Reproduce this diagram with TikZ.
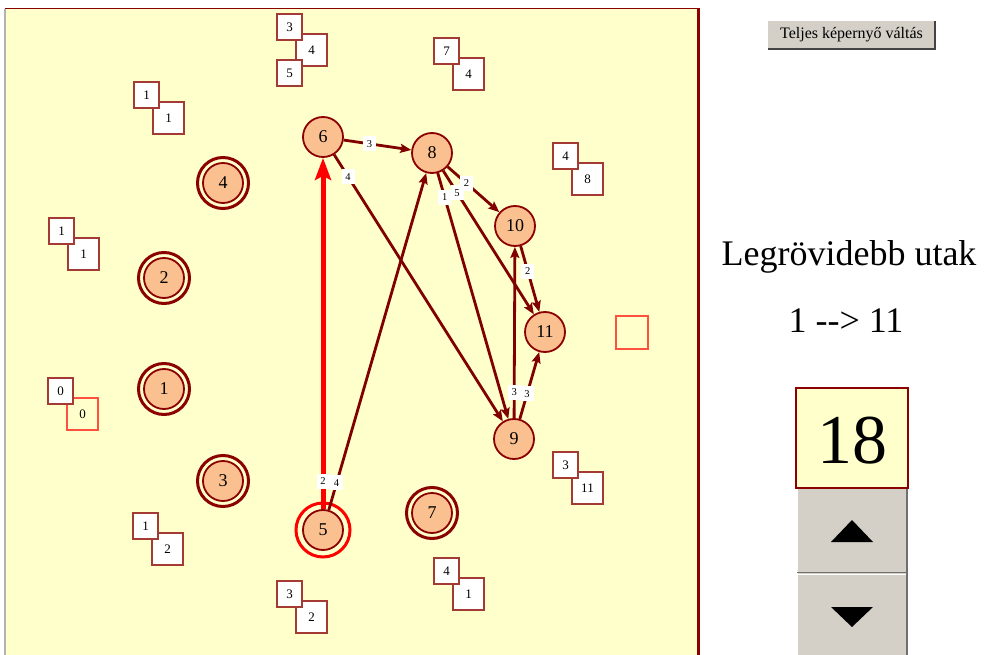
\documentclass[tikz,border=0pt]{standalone}
\usepackage{fontspec}
\setmainfont{Liberation Serif}
\usetikzlibrary{arrows.meta,calc}

\definecolor{panel}{HTML}{FFFFCC}
\definecolor{maroon}{HTML}{800000}
\definecolor{ringred}{HTML}{8B0000}
\definecolor{peach}{HTML}{FAC08F}
\definecolor{boxline}{HTML}{A33A33}
\definecolor{hot}{HTML}{FF0000}
\definecolor{softred}{HTML}{FF5040}
\definecolor{btngray}{HTML}{D4D0C8}
\definecolor{btndark}{HTML}{707070}

\tikzset{
  vert/.style={circle, draw=ringred, line width=1.8pt, fill=peach,
    minimum size=40pt, inner sep=0pt, font=\fontsize{18}{18}\selectfont},
  ring/.style={draw=ringred, line width=3pt},
  edge/.style={draw=maroon, line width=2.8pt,
    -{Stealth[length=11pt,width=9pt,inset=2pt]}},
  hotedge/.style={draw=hot, line width=5pt,
    -{Stealth[length=22pt,width=16pt,inset=4pt]}},
  wlbl/.style={fill=white, inner sep=1pt, minimum width=13pt,
    minimum height=15pt, font=\fontsize{10.5}{10.5}\selectfont},
  boxa/.style={draw=boxline, line width=1.3pt, fill=white, minimum width=25pt,
    minimum height=26pt, inner sep=0pt, font=\fontsize{13}{13}\selectfont},
  boxb/.style={boxa, minimum width=31pt, minimum height=32pt},
  txt/.style={inner sep=0pt, anchor=base},
}

\begin{document}
\begin{tikzpicture}[x=1pt, y=-1pt]
\useasboundingbox (0,0) rectangle (986,655);

% drawing panel
\fill[panel] (5,9) rectangle (697,655);
\draw[gray!60, line width=1.5pt] (5,9) -- (5,655);
\draw[ringred, line width=1pt] (5,9) -- (697,9);
\draw[ringred, line width=3pt] (698.5,8) -- (698.5,655);

% distance / predecessor boxes
\node[boxb] (d6b) at (311.5,50) {4};
\node[boxa] (d6a) at (289.5,27) {3};
\node[boxa] (d6c) at (289.5,73) {5};

\node[boxb] (d4b) at (168.5,118) {1};
\node[boxa] (d4a) at (146.5,95) {1};

\node[boxb] (d2b) at (83.5,254) {1};
\node[boxa] (d2a) at (61.5,231) {1};

\node[boxb, draw=softred, fill=none] (d1b) at (82.5,414) {0};
\node[boxa] (d1a) at (60.5,391) {0};

\node[boxb] (d3b) at (167.5,549) {2};
\node[boxa] (d3a) at (145.5,526) {1};

\node[boxb] (d5b) at (311.5,617) {2};
\node[boxa] (d5a) at (289.5,594) {3};

\node[boxb] (d7b) at (468.5,594) {1};
\node[boxa] (d7a) at (446.5,571) {4};

\node[boxb] (d8b) at (468.5,74) {4};
\node[boxa] (d8a) at (446.5,51) {7};

\node[boxb] (d10b) at (587.5,179) {8};
\node[boxa] (d10a) at (565.5,156) {4};

\node[boxb] (d9b) at (587.5,488) {11};
\node[boxa] (d9a) at (565.5,465) {3};

\node[boxb, draw=softred, fill=none, minimum width=32pt, minimum height=33pt] (d11) at (632,332.5) {};

% vertices
\node[vert] (n1) at (164,389) {1};
\node[vert] (n2) at (164,278) {2};
\node[vert] (n3) at (223,481) {3};
\node[vert] (n4) at (223,183) {4};
\node[vert] (n5) at (323,530) {5};
\node[vert] (n6) at (323,137) {6};
\node[vert] (n7) at (432,513) {7};
\node[vert] (n8) at (432,153) {8};
\node[vert] (n9) at (514,439) {9};
\node[vert] (n10) at (515,226) {10};
\node[vert] (n11) at (545,332) {11};

\foreach \v in {n1,n2,n3,n4,n7} \draw[ring] (\v) circle (25.5);
\draw[draw=hot, line width=3pt] (n5) circle (27);

% edges
\draw[hotedge] (n5) -- (n6);
\draw[edge] (n5) -- (n8);
\draw[edge] (n6) -- (n8);
\draw[edge] (n6) -- (n9);
\draw[edge] (n8) -- (n10);
\draw[edge] (n8) -- (n9);
\draw[edge] (n8) -- (n11);
\draw[edge] (n10) -- (n11);
\draw[edge] (n9) -- (n10);
\draw[edge] (n9) -- (n11);

% edge weights
\node[wlbl] (w56) at ($(n5)!49pt!(n6)$) {2};
\node[wlbl] (w58) at ($(n5)!49pt!(n8)$) {4};
\node[wlbl] (w68) at ($(n6)!47pt!(n8)$) {3};
\node[wlbl] (w69) at ($(n6)!47pt!(n9)$) {4};
\node[wlbl] (w89) at ($(n8)!46pt!(n9)$) {1};
\node[wlbl] (w811) at ($(n8)!47pt!(n11)$) {5};
\node[wlbl] (w810) at ($(n8)!46pt!(n10)$) {2};
\node[wlbl] (w1011) at ($(n10)!47pt!(n11)$) {2};
\node[wlbl] (w910) at ($(n9)!47pt!(n10)$) {3};
\node[wlbl] (w911) at ($(n9)!47pt!(n11)$) {3};

% side panel
\node[fill=btngray, minimum width=167pt, minimum height=28pt, inner sep=0pt,
  font=\fontsize{16}{16}\selectfont] (fs) at (851.5,35) {Teljes képernyő váltás};
\draw[btndark!60!black, line width=1.5pt] (fs.south west) -- (fs.south east) -- (fs.north east);

\node[txt, font=\fontsize{36}{36}\selectfont] (title) at (849,266) {Legrövidebb utak};
\node[txt, font=\fontsize{36}{36}\selectfont] (route) at (846,332) {1 -{}-> 11};

\node[draw=ringred, line width=2pt, fill=panel, minimum width=112pt,
  minimum height=100pt, inner sep=0pt] (res) at (852,437.5) {};
\node[txt, font=\fontsize{70}{70}\selectfont] (val) at (852,463) {18};

\fill[btngray] (796,489) rectangle (908,655);
\node[inner sep=0pt, minimum width=112pt, minimum height=84pt] (up) at (852,531) {};
\node[inner sep=0pt, minimum width=112pt, minimum height=81pt] (down) at (852,614.5) {};
\draw[white, line width=1.5pt] (797,489) -- (797,655);
\draw[btndark, line width=1.5pt] (907,489) -- (907,655);
\draw[btndark, line width=1.5pt] (797,572.5) -- (908,572.5);
\draw[white, line width=1pt] (797,574.5) -- (906,574.5);
\fill[black] (831,542) -- (873,542) -- (852,520) -- cycle;
\fill[black] (831,607) -- (873,607) -- (852,627) -- cycle;
\end{tikzpicture}
\end{document}
